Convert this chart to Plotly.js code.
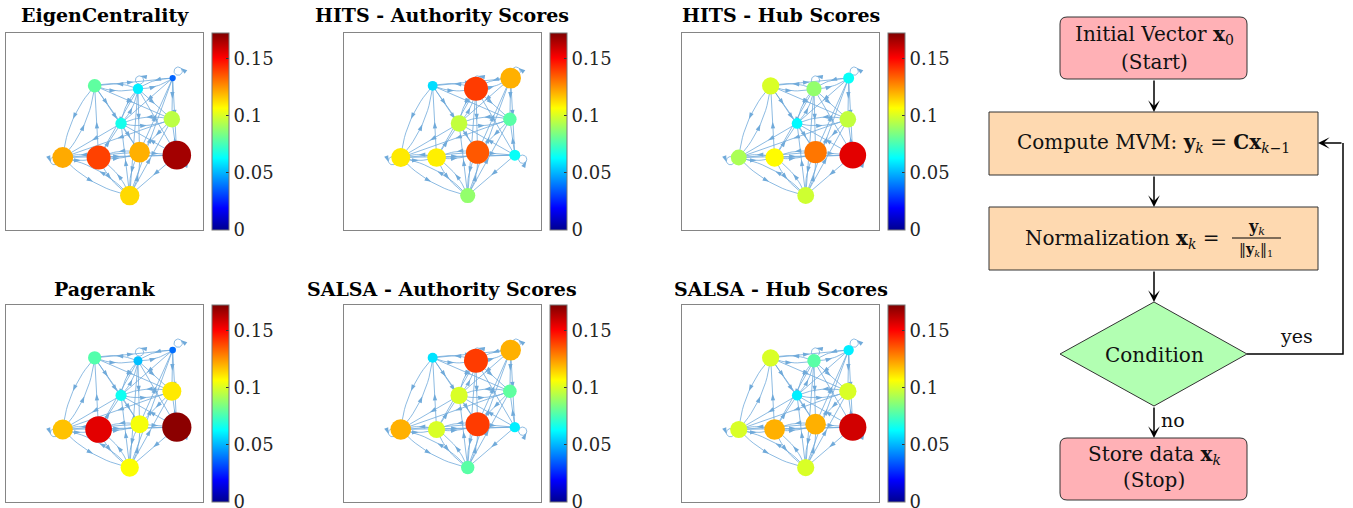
<!DOCTYPE html>
<html><head><meta charset="utf-8">
<script src="https://cdn.plot.ly/plotly-3.0.1.min.js"></script>
<style>body{margin:0;background:#fff}#chart{width:1353px;height:508px}</style>
</head><body><div id="chart"></div>
<script>
// ---------- DATA ----------
const nodeNames = ['A','B','C','D','E','F','G','H','I','J'];
const nodeX = [0.450,0.670,0.846,0.584,0.842,0.288,0.470,0.678,0.867,0.628];
const nodeY = [0.732,0.717,0.771,0.541,0.562,0.368,0.368,0.395,0.380,0.175];
const edgeSource = [0,1,0,0,0,0,5,6,0, 1,2,1,3,1,1,9,1,1, 2,2,2,7,9, 3,6,3,8,9,4,3, 4,4,8,9, 5,6,5,5,5,9, 6,7,6,9,8, 7,9,7, 8, 1,2,5,8];
const edgeTarget = [1,0,2,3,4,5,0,0,7, 2,1,3,1,6,7,1,4,8, 3,4,8,2,2, 5,3,7,3,3,3,4, 5,7,4,4, 6,5,7,8,9,5, 7,6,9,6,6, 9,7,8, 9, 1,2,5,8];
const panelTitles = ['EigenCentrality','HITS - Authority Scores','HITS - Hub Scores','Pagerank','SALSA - Authority Scores','SALSA - Hub Scores'];
const eigenScores    = [0.079,0.060,0.036,0.066,0.095,0.121,0.139,0.120,0.166,0.113];
const hitsAuthScores = [0.057,0.140,0.120,0.096,0.078,0.110,0.109,0.135,0.064,0.088];
const hitsHubScores  = [0.100,0.088,0.064,0.062,0.096,0.092,0.107,0.130,0.155,0.098];
const pagerankScores = [0.077,0.052,0.038,0.065,0.110,0.117,0.155,0.105,0.170,0.106];
const salsaAuthScores= [0.058,0.140,0.120,0.100,0.079,0.120,0.100,0.140,0.060,0.078];
const salsaHubScores = [0.100,0.078,0.060,0.060,0.100,0.100,0.120,0.120,0.158,0.100];
const colorMin = 0, colorMax = 0.172;
const cbTickVals = [0,0.05,0.1,0.15];
const cbTickText = ['0','0.05','0.1','0.15'];
const flowTexts = {
  start1:'Initial Vector <b>x</b><sub>0</sub>', start2:'(Start)',
  compute:'Compute MVM: <b>y</b><sub><i>k</i></sub> = <b>Cx</b><sub><i>k</i>−1</sub>',
  norm:'Normalization <b>x</b><sub><i>k</i></sub> =',
  normNum:'<b>y</b><sub><i>k</i></sub>', normDen:'‖<b>y</b><sub><i>k</i></sub>‖<sub>1</sub>',
  cond:'Condition', stop1:'Store data <b>x</b><sub><i>k</i></sub>', stop2:'(Stop)', yes:'yes', no:'no'
};
const allScores = [eigenScores,hitsAuthScores,hitsHubScores,pagerankScores,salsaAuthScores,salsaHubScores];

// ---------- STYLE ----------
const W=1353,H=508;
const px=x=>x/W, py=y=>1-y/H;
const panelLeft=[6,344,682,6,344,682], panelTop=[33,33,33,305,305,305], panelSize=197;
const titleY=[15,15,15,289,289,289];
const sizeScale=172;
const edgeColor='rgb(112,170,218)';
const jet=[[0,'rgb(0,0,143)'],[0.111,'rgb(0,0,255)'],[0.365,'rgb(0,255,255)'],[0.619,'rgb(255,255,0)'],[0.873,'rgb(255,0,0)'],[1,'rgb(128,0,0)']];
const serif='DejaVu Serif, Liberation Serif, serif';

const traces=[]; const layout={width:W,height:H,margin:{l:0,r:0,t:0,b:0},showlegend:false,hovermode:false,
  paper_bgcolor:'#fff',plot_bgcolor:'#fff',annotations:[],shapes:[]};

const cx = nodeX.reduce((a,b)=>a+b,0)/nodeX.length, cy = nodeY.reduce((a,b)=>a+b,0)/nodeY.length;
function edgeGeometry(){
  const ex=[],ey=[],ax=[],ay=[],ang=[];
  for(let e=0;e<edgeSource.length;e++){
    const s=edgeSource[e],t=edgeTarget[e];
    const x0=nodeX[s],y0=nodeY[s],x1=nodeX[t],y1=nodeY[t];
    if(s===t){
      let dx=x0-cx,dy=y0-cy; const L=Math.hypot(dx,dy); dx/=L; dy/=L;
      const r=0.021, d=0.045; const ccx=x0+dx*d, ccy=y0+dy*d;
      for(let k=0;k<=36;k++){const a=2*Math.PI*k/36; ex.push(ccx+r*Math.cos(a)); ey.push(ccy+r*Math.sin(a));}
      ex.push(null); ey.push(null);
      ax.push(ccx+dx*r); ay.push(ccy+dy*r);
      ang.push(Math.atan2(-dy,dx)*180/Math.PI);
      continue;
    }
    let rev=false;
    for(let f=0;f<edgeSource.length;f++){ if(edgeSource[f]===t&&edgeTarget[f]===s){rev=true;break;} }
    const dx=x1-x0, dy=y1-y0, L=Math.hypot(dx,dy);
    const off = rev?0.16*L:0;
    const qx=(x0+x1)/2+dy/L*off, qy=(y0+y1)/2-dx/L*off;
    for(let k=0;k<=16;k++){const u=k/16; ex.push((1-u)*(1-u)*x0+2*u*(1-u)*qx+u*u*x1); ey.push((1-u)*(1-u)*y0+2*u*(1-u)*qy+u*u*y1);}
    ex.push(null); ey.push(null);
    ax.push(0.25*x0+0.5*qx+0.25*x1); ay.push(0.25*y0+0.5*qy+0.25*y1);
    ang.push(Math.atan2(dx,dy)*180/Math.PI);
  }
  return {ex,ey,ax,ay,ang};
}
const geo=edgeGeometry();

for(let p=0;p<6;p++){
  const xa='x'+(p+1), ya='y'+(p+1);
  const L=panelLeft[p], T=panelTop[p];
  const axStyle={showgrid:false,zeroline:false,showticklabels:false,ticks:'',showline:true,mirror:true,linecolor:'#858585',linewidth:1,range:[0,1],fixedrange:true};
  layout['xaxis'+(p+1)]=Object.assign({},axStyle,{domain:[px(L),px(L+panelSize)],anchor:ya});
  layout['yaxis'+(p+1)]=Object.assign({},axStyle,{domain:[py(T+panelSize),py(T)],anchor:xa});
  traces.push({type:'scatter',mode:'lines',x:geo.ex,y:geo.ey,xaxis:xa,yaxis:ya,line:{color:edgeColor,width:0.8},hoverinfo:'skip'});
  traces.push({type:'scatter',mode:'markers',x:geo.ax,y:geo.ay,xaxis:xa,yaxis:ya,marker:{symbol:'arrow',size:7,angle:geo.ang,color:edgeColor,line:{width:0}},hoverinfo:'skip'});
  const sc=allScores[p];
  traces.push({type:'scatter',mode:'markers',x:nodeX,y:nodeY,text:nodeNames,xaxis:xa,yaxis:ya,
    marker:{size:sc.map(v=>v*sizeScale),color:sc,colorscale:jet,cmin:colorMin,cmax:colorMax,line:{width:0},opacity:1,
      showscale:true,colorbar:{x:px(L+206),xanchor:'left',xpad:0,y:py(T),yanchor:'top',ypad:0,len:panelSize,lenmode:'pixels',
        thickness:17,thicknessmode:'pixels',outlinewidth:1,outlinecolor:'#777',tickmode:'array',tickvals:cbTickVals,ticktext:cbTickText,
        ticks:'inside',ticklen:3,tickcolor:'#333',ticklabeloverflow:'allow',tickfont:{family:serif,size:18,color:'#262626'}}}});
  layout.annotations.push({xref:'paper',yref:'paper',x:px(L+panelSize/2),y:py(titleY[p]),text:'<b>'+panelTitles[p]+'</b>',showarrow:false,
    xanchor:'center',yanchor:'middle',font:{family:serif,size:19,color:'#000'}});
}

// ---------- FLOWCHART ----------
function roundRect(x0,y0,x1,y1,r){
  const X=px,Y=py;
  return `M${X(x0+r)},${Y(y0)} L${X(x1-r)},${Y(y0)} Q${X(x1)},${Y(y0)} ${X(x1)},${Y(y0+r)} L${X(x1)},${Y(y1-r)} Q${X(x1)},${Y(y1)} ${X(x1-r)},${Y(y1)} L${X(x0+r)},${Y(y1)} Q${X(x0)},${Y(y1)} ${X(x0)},${Y(y1-r)} L${X(x0)},${Y(y0+r)} Q${X(x0)},${Y(y0)} ${X(x0+r)},${Y(y0)} Z`;
}
const border={color:'#333',width:1};
layout.shapes.push({type:'path',xref:'paper',yref:'paper',path:roundRect(1060,17,1247,79,7),fillcolor:'#ffb1b6',line:border});
layout.shapes.push({type:'rect',xref:'paper',yref:'paper',x0:px(989),x1:px(1318),y0:py(175),y1:py(112),fillcolor:'#fed9b0',line:border});
layout.shapes.push({type:'rect',xref:'paper',yref:'paper',x0:px(989),x1:px(1318),y0:py(270),y1:py(207),fillcolor:'#fed9b0',line:border});
layout.shapes.push({type:'path',xref:'paper',yref:'paper',path:`M${px(1154)},${py(302)} L${px(1247)},${py(354)} L${px(1154)},${py(406)} L${px(1060)},${py(354)} Z`,fillcolor:'#b2ffb2',line:border});
layout.shapes.push({type:'path',xref:'paper',yref:'paper',path:roundRect(1060,438,1247,500,7),fillcolor:'#ffb1b6',line:border});
layout.shapes.push({type:'path',xref:'paper',yref:'paper',path:`M${px(1247)},${py(354)} L${px(1343)},${py(354)} L${px(1343)},${py(143)}`,line:{color:'#000',width:1.5}});
layout.shapes.push({type:'line',xref:'paper',yref:'paper',x0:px(1232),x1:px(1281),y0:py(238),y1:py(238),line:{color:'#000',width:1}});
function arrow(x,y,ax,ay){layout.annotations.push({xref:'paper',yref:'paper',x:px(x),y:py(y),ax:ax,ay:ay,text:'',showarrow:true,
  arrowhead:3,arrowsize:1.3,arrowwidth:1.5,arrowcolor:'#000',standoff:0,startstandoff:0});}
arrow(1154,112,0,-33); arrow(1154,207,0,-32); arrow(1154,302,0,-32); arrow(1154,438,0,-32); arrow(1318,143,25,0);
function txt(t,x,y,size,xanchor){layout.annotations.push({xref:'paper',yref:'paper',x:px(x),y:py(y),text:t,showarrow:false,
  xanchor:xanchor||'center',yanchor:'middle',font:{family:serif,size:size,color:'#111'}});}
txt(flowTexts.start1,1154,35,20); txt(flowTexts.start2,1154,62,20);
txt(flowTexts.compute,1153,143,20);
txt(flowTexts.norm,1222,239,20,'right');
txt(flowTexts.normNum,1256,227,16); txt(flowTexts.normDen,1256,250,14);
txt(flowTexts.cond,1154,355,20);
txt(flowTexts.stop1,1154,455,20); txt(flowTexts.stop2,1154,480,20);
txt(flowTexts.yes,1296,336,19); txt(flowTexts.no,1173,420,19);

Plotly.newPlot('chart',traces,layout,{staticPlot:true,displayModeBar:false});
</script></body></html>
